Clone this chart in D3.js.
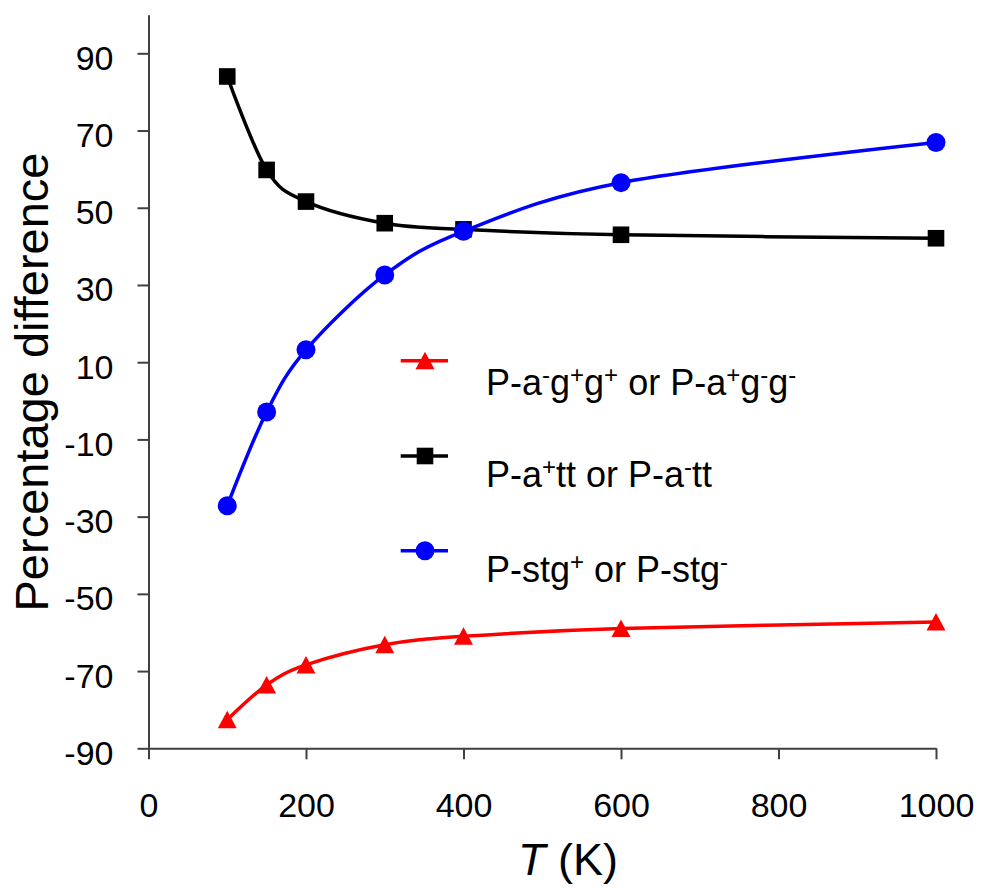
<!DOCTYPE html>
<html>
<head>
<meta charset="utf-8">
<script src="https://cdn.jsdelivr.net/npm/d3@7"></script>
<style>
  html, body { margin: 0; padding: 0; background: #fff; }
  svg { display: block; font-family: "Liberation Sans", Arial, sans-serif; }
</style>
</head>
<body>
<svg id="chart" width="982" height="888"></svg>
<script>
// Temperatures (K) at which each conformer family was evaluated
const temperatures = [100, 150, 200, 300, 400, 600, 1000];

// Percentage difference per conformer family
const agg  = [-82.6, -73.6, -68.4, -63.2, -61.0, -59.0, -57.3];   // P-a-g+g+ / P-a+g-g-
const att  = [84.0, 59.8, 51.6, 46.0, 44.4, 43.0, 42.1];          // P-a+tt / P-a-tt
const stg  = [-27.2, -2.9, 13.2, 32.6, 43.9, 56.5, 66.9];         // P-stg+ / P-stg-

const xTicks = [0, 200, 400, 600, 800, 1000];
const yTicks = [-90, -70, -50, -30, -10, 10, 30, 50, 70, 90];

const svg = d3.select("#chart");
svg.append("rect").attr("width", 982).attr("height", 888).attr("fill", "#fff");

const x = d3.scaleLinear().domain([0, 1000]).range([148.5, 936]);
const y = d3.scaleLinear().domain([-90, 100]).range([748.3, 14.7]);

const axisColor = "#404040";
const plain = d => String(d);   // hyphen-minus, no thousands separator

// Y axis
const gy = svg.append("g").attr("transform", `translate(${x(0)},0)`)
  .call(d3.axisLeft(y).tickValues(yTicks).tickFormat(plain)
    .tickSize(11).tickSizeOuter(0).tickPadding(24));
// X axis
const gx = svg.append("g").attr("transform", `translate(0,${y(-90)})`)
  .call(d3.axisBottom(x).tickValues(xTicks).tickFormat(plain)
    .tickSize(11).tickSizeOuter(0).tickPadding(12));

[gx, gy].forEach(g => {
  g.select(".domain").attr("stroke", axisColor).attr("stroke-width", 2);
  g.selectAll(".tick line").attr("stroke", axisColor).attr("stroke-width", 2);
  g.selectAll(".tick text").attr("fill", "#000").attr("font-size", 34)
    .attr("font-family", "'Liberation Sans', Arial, sans-serif");
});
gy.selectAll(".tick text").attr("dy", null).attr("y", 16);
gx.selectAll(".tick text").attr("dy", null).attr("y", 69);

// Axis titles
svg.append("text")
  .attr("transform", "translate(48,382) rotate(-90)")
  .attr("text-anchor", "middle")
  .attr("font-size", 47)
  .text("Percentage difference");

const xt = svg.append("text")
  .attr("x", 568).attr("y", 875)
  .attr("text-anchor", "middle")
  .attr("font-size", 45);
xt.append("tspan").attr("font-style", "italic").text("T");
xt.append("tspan").text(" (K)");

// Marker shapes
const tri = "M0,-9L9.5,8.5L-9.5,8.5Z";
function drawMarker(g, kind, color, cx, cy) {
  if (kind === "triangle") {
    g.append("path").attr("d", tri).attr("fill", color)
      .attr("transform", `translate(${cx},${cy})`);
  } else if (kind === "square") {
    g.append("rect").attr("x", cx - 8.3).attr("y", cy - 8.3)
      .attr("width", 16.6).attr("height", 16.6).attr("fill", color);
  } else {
    g.append("circle").attr("cx", cx).attr("cy", cy).attr("r", 9.5).attr("fill", color);
  }
}

const series = [
  { values: agg, color: "#FF0000", marker: "triangle" },
  { values: att, color: "#000000", marker: "square" },
  { values: stg, color: "#0000FF", marker: "circle" }
];

const line = d3.line()
  .x(d => x(d[0]))
  .y(d => y(d[1]))
  .curve(d3.curveCardinal.tension(0));

series.forEach(s => {
  const pts = temperatures.map((t, i) => [t, s.values[i]]);
  const g = svg.append("g");
  g.append("path").datum(pts).attr("d", line)
    .attr("fill", "none").attr("stroke", s.color).attr("stroke-width", 3.5);
  pts.forEach(p => drawMarker(g, s.marker, s.color, x(p[0]), y(p[1])));
});

// Legend
const legendRows = [
  { color: "#FF0000", marker: "triangle", ly: 360.7, ty: 395,
    parts: [["P-a"], ["-", 1], ["g"], ["+", 1], ["g"], ["+", 1], [" or P-a"], ["+", 1], ["g"], ["-", 1], ["g"], ["-", 1]] },
  { color: "#000000", marker: "square", ly: 456, ty: 487,
    parts: [["P-a"], ["+", 1], ["tt or P-a"], ["-", 1], ["tt"]] },
  { color: "#0000FF", marker: "circle", ly: 550.7, ty: 581.5,
    parts: [["P-stg"], ["+", 1], [" or P-stg"], ["-", 1]] }
];

const lg = svg.append("g");
legendRows.forEach(r => {
  lg.append("line").attr("x1", 400.7).attr("x2", 448).attr("y1", r.ly).attr("y2", r.ly)
    .attr("stroke", r.color).attr("stroke-width", 3.5);
  drawMarker(lg, r.marker, r.color, 425, r.ly);
  const t = lg.append("text").attr("x", 486).attr("y", r.ty).attr("font-size", 36);
  let raised = false;
  r.parts.forEach(([str, sup]) => {
    const ts = t.append("tspan").text(str);
    if (sup) {
      ts.attr("font-size", 24).attr("dy", raised ? 0 : -12);
      raised = true;
    } else if (raised) {
      ts.attr("dy", 12);
      raised = false;
    }
  });
});
</script>
</body>
</html>
